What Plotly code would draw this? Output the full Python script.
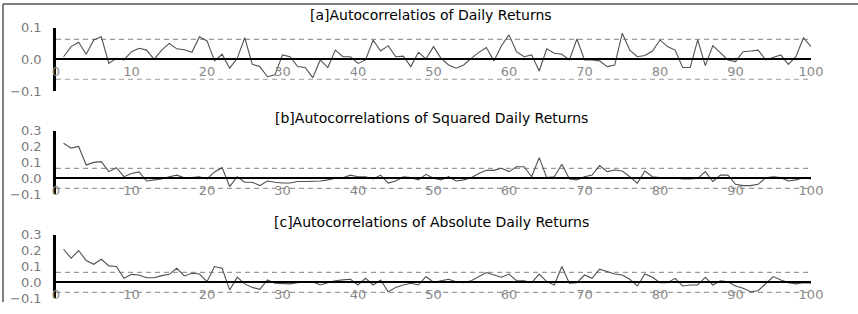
import plotly.graph_objects as go

# ---------------- data ----------------
lags = list(range(1, 101))

acf_returns = [
    0.008, 0.040, 0.054, 0.016, 0.061, 0.071, -0.013, 0.003, -0.002, 0.024,
    0.035, 0.029, 0.000, 0.029, 0.050, 0.033, 0.030, 0.022, 0.071, 0.058,
    -0.005, 0.016, -0.028, 0.003, 0.068, -0.016, -0.023, -0.055, -0.049, 0.014,
    0.008, -0.023, -0.026, -0.058, -0.002, -0.026, 0.029, 0.008, 0.008, -0.013,
    -0.002, 0.061, 0.026, 0.043, 0.008, 0.010, -0.023, 0.022, 0.001, 0.040,
    0.003, -0.018, -0.028, -0.018, 0.003, 0.022, 0.037, -0.005, 0.043, 0.077,
    0.024, 0.008, 0.014, -0.037, 0.033, 0.019, 0.016, -0.002, 0.064, -0.002,
    -0.002, -0.005, -0.023, -0.018, 0.082, 0.029, 0.008, 0.012, 0.026, 0.061,
    0.040, 0.029, -0.026, -0.026, 0.061, -0.020, 0.043, 0.019, -0.002, -0.007,
    0.024, 0.026, 0.029, -0.002, 0.005, 0.014, -0.016, 0.008, 0.068, 0.040,
]

acf_squared = [
    0.220, 0.190, 0.200, 0.084, 0.100, 0.105, 0.042, 0.067, 0.010, 0.030,
    0.040, -0.017, -0.010, -0.004, 0.010, 0.020, 0.004, 0.004, 0.010, -0.004,
    0.040, 0.067, -0.052, 0.010, -0.025, -0.025, -0.046, -0.017, -0.025, -0.030,
    -0.030, -0.020, -0.020, -0.020, -0.017, -0.010, 0.000, 0.004, 0.020, 0.010,
    0.010, -0.004, 0.020, -0.030, -0.017, 0.010, 0.004, -0.010, 0.025, 0.000,
    -0.010, 0.010, -0.017, -0.010, 0.004, 0.030, 0.050, 0.050, 0.063, 0.042,
    0.073, 0.073, 0.010, 0.130, 0.004, 0.010, 0.088, -0.004, -0.010, 0.010,
    0.020, 0.080, 0.042, 0.052, 0.046, 0.010, -0.030, 0.046, 0.010, 0.004,
    0.000, 0.004, -0.004, -0.004, 0.000, 0.042, -0.020, 0.020, 0.020, -0.038,
    -0.046, -0.046, -0.038, 0.004, 0.010, 0.004, -0.017, -0.010, 0.004, -0.004,
]

acf_absolute = [
    0.208, 0.151, 0.200, 0.137, 0.113, 0.145, 0.103, 0.099, 0.025, 0.050,
    0.046, 0.029, 0.029, 0.042, 0.050, 0.088, 0.040, 0.057, 0.052, 0.004,
    0.099, 0.088, -0.048, 0.032, -0.010, -0.032, -0.044, 0.015, -0.006, -0.010,
    -0.010, -0.002, 0.004, 0.004, -0.017, -0.002, 0.010, 0.015, 0.019, -0.017,
    0.025, -0.017, 0.015, -0.059, -0.032, -0.017, -0.006, -0.017, 0.036, 0.000,
    0.010, 0.019, 0.004, -0.002, 0.010, 0.036, 0.061, 0.046, 0.032, 0.052,
    0.010, 0.010, -0.002, 0.052, 0.004, -0.017, 0.099, -0.006, -0.002, 0.046,
    0.025, 0.082, 0.067, 0.052, 0.046, 0.019, -0.023, 0.052, 0.032, -0.002,
    -0.002, 0.025, -0.023, -0.017, -0.017, 0.032, -0.017, 0.010, 0.004, -0.023,
    -0.038, -0.059, -0.053, -0.006, 0.036, 0.015, -0.002, -0.010, -0.002, -0.006,
]

conf_bound = 0.063
x_ticks = [0, 10, 20, 30, 40, 50, 60, 70, 80, 90, 100]
titles = [
    "[a]Autocorrelatios of Daily Returns",
    "[b]Autocorrelations of Squared Daily Returns",
    "[c]Autocorrelations of Absolute Daily Returns",
]
y_ticks_a = [-0.1, 0.0, 0.1]
y_ticks_bc = [-0.1, 0.0, 0.1, 0.2, 0.3]

# ---------------- layout helpers ----------------
W, H = 858, 314


def py(pix):
    return 1 - pix / H


def px(pix):
    return pix / W


X_DOM = [px(56), px(811)]
FONT = "DejaVu Sans"

panels = [
    dict(vals=acf_returns, title=titles[0], yr=[-0.1, 0.1], top=27.6, bot=91.0,
         ty=15, yt=y_ticks_a),
    dict(vals=acf_squared, title=titles[1], yr=[-0.1, 0.3], top=130.6, bot=194.2,
         ty=118, yt=y_ticks_bc),
    dict(vals=acf_absolute, title=titles[2], yr=[-0.1, 0.3], top=234.6, bot=298.2,
         ty=222, yt=y_ticks_bc),
]

fig = go.Figure()
layout = dict(
    width=W, height=H,
    margin=dict(l=0, r=0, t=0, b=0),
    paper_bgcolor="white", plot_bgcolor="white",
    showlegend=False,
    annotations=[], shapes=[],
)

for i, p in enumerate(panels):
    n = "" if i == 0 else str(i + 1)
    xa, ya = "x" + n, "y" + n
    ydom = [py(p["bot"]), py(p["top"])]
    lo, hi = p["yr"]
    zero_pos = ydom[0] + (0 - lo) / (hi - lo) * (ydom[1] - ydom[0])

    # confidence bounds
    for sgn in (1, -1):
        fig.add_trace(go.Scatter(
            x=[x_ticks[0], x_ticks[-1]], y=[sgn * conf_bound] * 2,
            mode="lines", xaxis=xa, yaxis=ya,
            line=dict(color="#9a9a9a", width=1.2, dash="5px,4px"),
            hoverinfo="skip",
        ))
    # autocorrelations
    fig.add_trace(go.Scatter(
        x=lags, y=p["vals"], mode="lines", xaxis=xa, yaxis=ya,
        line=dict(color="#505050", width=1.1),
    ))

    layout["xaxis" + n] = dict(
        domain=X_DOM, range=[0, 100], anchor="free", position=zero_pos,
        automargin=False,
        showline=True, linecolor="black", linewidth=2,
        showgrid=False, zeroline=False, ticks="",
        tickvals=x_ticks, ticklabelstandoff=0,
        tickfont=dict(family=FONT, size=13, color="#8a8a8a"),
    )
    layout["yaxis" + n] = dict(
        domain=ydom, range=[lo, hi], anchor=xa, automargin=False,
        showline=True, linecolor="black", linewidth=2.5,
        showgrid=False, zeroline=False, ticks="",
        tickvals=p["yt"], tickformat=".1f", ticklabelstandoff=9,
        tickfont=dict(family=FONT, size=13, color="#7a7a7a"),
    )
    layout["annotations"].append(dict(
        text=p["title"], x=px(431), y=py(p["ty"]), xref="paper", yref="paper",
        xanchor="center", yanchor="middle", showarrow=False,
        font=dict(family=FONT, size=14, color="black"),
    ))

# outer frame (top and left edges)
layout["shapes"].append(dict(type="line", xref="paper", yref="paper",
                             x0=px(3), x1=1, y0=py(4), y1=py(4),
                             line=dict(color="#555555", width=1.5)))
layout["shapes"].append(dict(type="line", xref="paper", yref="paper",
                             x0=px(3), x1=px(3), y0=py(4), y1=py(302),
                             line=dict(color="#555555", width=1.5)))

fig.update_layout(**layout)
fig.write_html(
    "out.html",
    config={"displayModeBar": False},
    post_script="document.body.style.margin='0';document.body.style.overflow='hidden';",
)
